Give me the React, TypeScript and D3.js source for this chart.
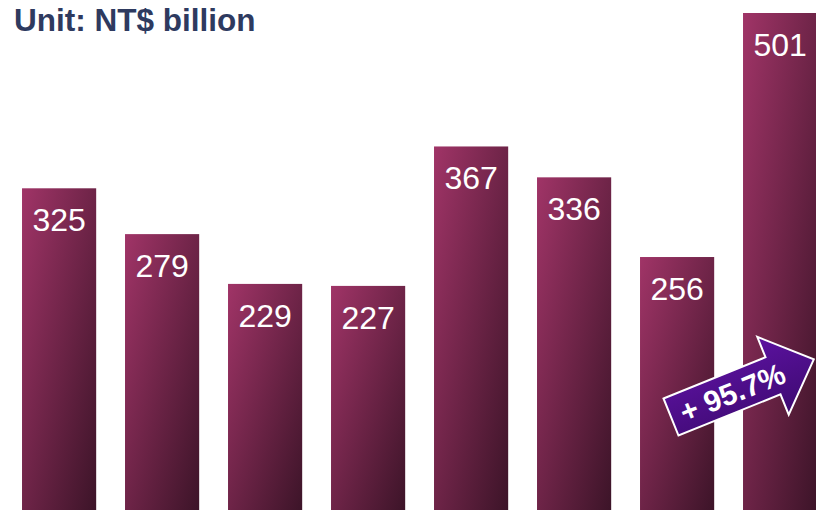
import React, { useEffect, useRef } from 'react';
import * as d3 from 'd3';

const categories = ['1', '2', '3', '4', '5', '6', '7', '8'];
const revenue = [325, 279, 229, 227, 367, 336, 256, 501];
const unitLabel = 'Unit: NT$ billion';
const growthLabel = '+ 95.7%';

export default function App() {
  const svgRef = useRef<SVGSVGElement>(null);

  useEffect(() => {
    if (!svgRef.current) return;
    const svg = d3.select(svgRef.current);
    svg.selectAll('*').remove();

    const defs = svg.append('defs');
    const barGrad = defs.append('linearGradient')
      .attr('id', 'barGrad')
      .attr('x1', 0).attr('y1', 0).attr('x2', 1).attr('y2', 1);
    barGrad.append('stop').attr('offset', '0%').attr('stop-color', '#a03467');
    barGrad.append('stop').attr('offset', '100%').attr('stop-color', '#3c1428');

    const arrowGrad = defs.append('linearGradient')
      .attr('id', 'arrowGrad')
      .attr('x1', 0).attr('y1', 0).attr('x2', 0).attr('y2', 1);
    arrowGrad.append('stop').attr('offset', '0%').attr('stop-color', '#5c12a0');
    arrowGrad.append('stop').attr('offset', '100%').attr('stop-color', '#3e0a72');

    // Escalas
    const x = d3.scaleBand<string>()
      .domain(categories)
      .range([7.6, 831.6])
      .paddingInner(0.28)
      .paddingOuter(0.14);

    const y = d3.scaleLinear()
      .domain([0, 501])
      .range([512, 13]);

    // Barras
    const bars = svg.append('g');
    bars.selectAll('rect')
      .data(revenue)
      .join('rect')
      .attr('x', (_, i) => x(categories[i])!)
      .attr('y', d => y(d))
      .attr('width', x.bandwidth())
      .attr('height', d => y(0) - y(d))
      .attr('fill', 'url(#barGrad)');

    bars.selectAll('text')
      .data(revenue)
      .join('text')
      .attr('x', (_, i) => x(categories[i])! + x.bandwidth() / 2)
      .attr('y', d => y(d) + 43)
      .attr('text-anchor', 'middle')
      .attr('fill', '#ffffff')
      .attr('font-family', 'Liberation Sans, Arial, sans-serif')
      .attr('font-size', 32)
      .text(d => d);

    // Titulo
    svg.append('text')
      .attr('x', 14)
      .attr('y', 31)
      .attr('fill', '#2e3a5f')
      .attr('font-family', 'Liberation Sans, Arial, sans-serif')
      .attr('font-weight', 'bold')
      .attr('font-size', 31.5)
      .text(unitLabel);

    // Flecha de crecimiento
    const bodyLen = 110;
    const bodyH = 40;
    const headLen = 44;
    const headH = 84;
    const arrow = svg.append('g')
      .attr('transform', `translate(671,417) rotate(-22)`);
    const pts: [number, number][] = [
      [0, -bodyH / 2],
      [bodyLen, -bodyH / 2],
      [bodyLen, -headH / 2],
      [bodyLen + headLen, 0],
      [bodyLen, headH / 2],
      [bodyLen, bodyH / 2],
      [0, bodyH / 2],
    ];
    arrow.append('path')
      .attr('d', d3.line()(pts) + 'Z')
      .attr('fill', 'url(#arrowGrad)')
      .attr('stroke', '#ffffff')
      .attr('stroke-width', 2);
    arrow.append('text')
      .attr('x', 66)
      .attr('y', 11)
      .attr('text-anchor', 'middle')
      .attr('fill', '#ffffff')
      .attr('font-family', 'Liberation Sans, Arial, sans-serif')
      .attr('font-weight', 'bold')
      .attr('font-size', 30)
      .text(growthLabel);
  }, []);

  return (
    <svg
      ref={svgRef}
      width={816}
      height={510}
      style={{ position: 'absolute', left: 0, top: 0, display: 'block' }}
    />
  );
}
